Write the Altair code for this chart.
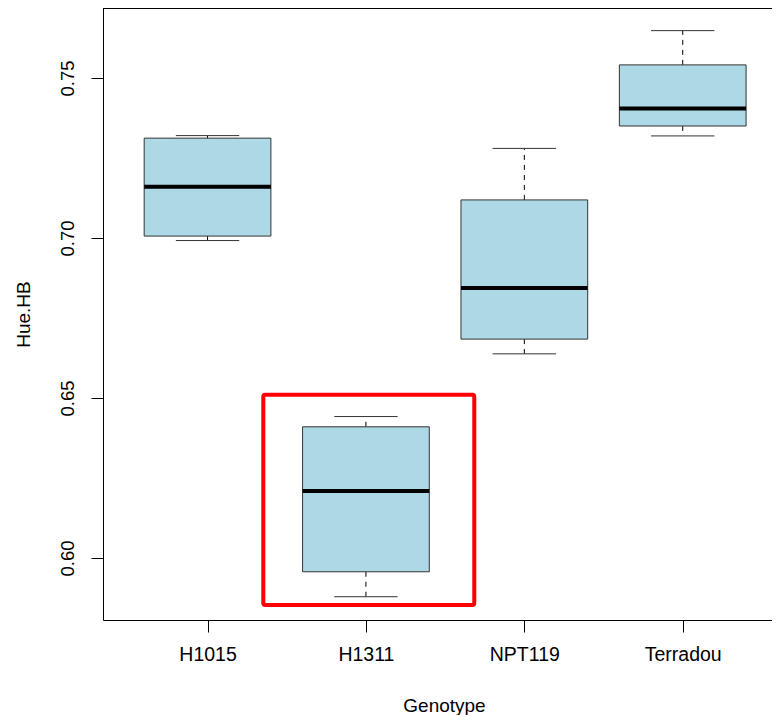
import altair as alt
import pandas as pd

# ---- data ----
genotypes = ["H1015", "H1311", "NPT119", "Terradou"]
positions = [1, 2, 3, 4]
lower_whisker = [0.6992, 0.5879, 0.6638, 0.7319]
q1 = [0.7006, 0.5957, 0.6684, 0.7350]
median = [0.7160, 0.6209, 0.6844, 0.7405]
q3 = [0.7312, 0.6410, 0.7119, 0.7541]
upper_whisker = [0.7320, 0.6442, 0.7280, 0.7648]

y_ticks = [0.60, 0.65, 0.70, 0.75]

# red highlight rectangle around H1311 (data coordinates)
highlight_x = [1.352, 2.684]
highlight_y = [0.5853, 0.6510]

x_domain = [0.34, 4.5636]
y_domain = [0.580625, 0.771875]

FONT = "Liberation Sans"

df = pd.DataFrame({
    "genotype": genotypes,
    "pos": positions,
    "lo": lower_whisker,
    "q1": q1,
    "med": median,
    "q3": q3,
    "hi": upper_whisker,
})
df["left"] = df["pos"] - 0.4
df["right"] = df["pos"] + 0.4
df["cap_l"] = df["pos"] - 0.2
df["cap_r"] = df["pos"] + 0.2

xs = alt.Scale(domain=x_domain, nice=False, zero=False)
ys = alt.Scale(domain=y_domain, nice=False, zero=False)

label_list = "[" + ",".join("'" + g + "'" for g in genotypes) + "]"

x_axis = alt.Axis(
    values=positions,
    labelExpr=label_list + "[datum.value - 1]",
    tickSize=12, labelPadding=13, labelFontSize=19.5, labelFont=FONT,
    labelFlush=False, labelOverlap=False,
    titleFontSize=19, titleFont=FONT, titleFontWeight="normal",
    titleBaseline="alphabetic", titleY=91, titleX=341,
    grid=False, domainColor="black", tickColor="black",
    labelColor="black", titleColor="black",
)
y_axis = alt.Axis(
    values=y_ticks, format=".2f",
    tickSize=12, labelPadding=18, labelFontSize=18.5, labelFont=FONT,
    labelAngle=270, labelAlign="center", labelBaseline="alphabetic",
    labelFlush=False, labelOverlap=False,
    titleFontSize=19, titleFont=FONT, titleFontWeight="normal",
    titleAngle=270, titleBaseline="alphabetic", titleX=-74, titleY=306,
    titleAlign="center",
    grid=False, domainColor="black", tickColor="black",
    labelColor="black", titleColor="black",
)

base = alt.Chart(df)

boxes = base.mark_rect(fill="#ADD8E6", stroke="#333333", strokeWidth=1).encode(
    x=alt.X("left:Q", scale=xs, axis=x_axis, title="Genotype"),
    x2="right:Q",
    y=alt.Y("q1:Q", scale=ys, axis=y_axis, title="Hue.HB"),
    y2="q3:Q",
)

whisk_up = base.mark_rule(color="black", strokeWidth=1, strokeDash=[5, 5]).encode(
    x=alt.X("pos:Q", scale=xs), y=alt.Y("q3:Q", scale=ys), y2="hi:Q"
)
whisk_lo = base.mark_rule(color="black", strokeWidth=1, strokeDash=[5, 5]).encode(
    x=alt.X("pos:Q", scale=xs), y=alt.Y("q1:Q", scale=ys), y2="lo:Q"
)
cap_up = base.mark_rule(color="#333333", strokeWidth=1).encode(
    x=alt.X("cap_l:Q", scale=xs), x2="cap_r:Q", y=alt.Y("hi:Q", scale=ys)
)
cap_lo = base.mark_rule(color="#333333", strokeWidth=1).encode(
    x=alt.X("cap_l:Q", scale=xs), x2="cap_r:Q", y=alt.Y("lo:Q", scale=ys)
)
med_line = base.mark_rule(color="black", strokeWidth=4).encode(
    x=alt.X("left:Q", scale=xs), x2="right:Q", y=alt.Y("med:Q", scale=ys)
)

top_df = pd.DataFrame({"x": [x_domain[0]], "x2": [x_domain[1]], "y": [y_domain[1]]})
top_border = alt.Chart(top_df).mark_rule(color="black", strokeWidth=2).encode(
    x=alt.X("x:Q", scale=xs), x2="x2:Q", y=alt.Y("y:Q", scale=ys)
)

hl_df = pd.DataFrame({"x": [highlight_x[0]], "x2": [highlight_x[1]],
                      "y": [highlight_y[0]], "y2": [highlight_y[1]]})
highlight = alt.Chart(hl_df).mark_rect(
    fillOpacity=0, stroke="#FF0000", strokeWidth=4, cornerRadius=2
).encode(
    x=alt.X("x:Q", scale=xs), x2="x2:Q", y=alt.Y("y:Q", scale=ys), y2="y2:Q"
)

chart = alt.layer(
    whisk_up, whisk_lo, cap_up, cap_lo, boxes, med_line, top_border, highlight
).properties(
    width=669, height=612,
    padding={"left": 95, "top": 0, "right": 0, "bottom": 95},
    autosize=alt.AutoSizeParams(type="none"),
    background="white",
).configure_view(stroke=None)

chart.save("out.html", embed_options={"renderer": "svg", "actions": False})
